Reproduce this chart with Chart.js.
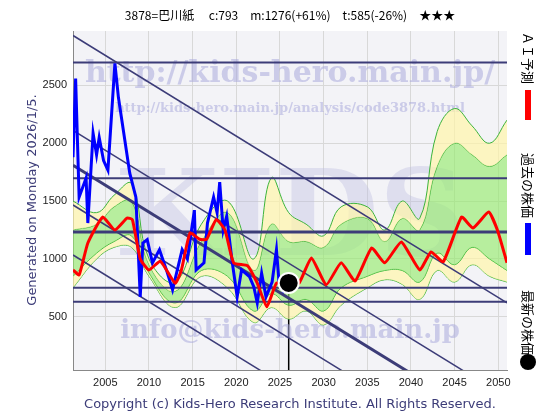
<!DOCTYPE html>
<html><head><meta charset="utf-8">
<script src="https://cdn.jsdelivr.net/npm/chart.js@4"></script>
<style>body{margin:0;background:#fff}#wrap{width:560px;height:420px}</style>
</head><body><div id="wrap"><canvas id="c"></canvas></div>
<script>
// past price (blue)
const pastYears = [2001.3,2001.6,2002.0,2002.8,2003.0,2003.6,2004.0,2004.3,2004.8,2005.3,2006.1,2006.5,2007.8,2008.5,2009.0,2009.3,2009.8,2010.4,2011.2,2012.0,2012.7,2013.8,2014.4,2015.2,2015.4,2016.3,2016.7,2017.4,2017.8,2018.1,2018.5,2018.9,2019.5,2020.1,2020.6,2021.5,2022.0,2022.4,2022.9,2023.4,2024.1,2024.6,2024.9,2025.5];
const pastValues = [1879,2560,1534,1700,1310,2086,1900,2050,1850,1767,2690,2397,1741,1534,672,1138,1167,966,1080,905,733,1080,1000,1422,905,966,1310,1534,1400,1664,1250,1370,991,672,905,848,760,620,876,672,800,1080,790,707];
// AI forecast (red)
const aiYears = [2001.3,2002.0,2003.0,2004.7,2006.1,2007.5,2008.1,2009.0,2010.0,2011.3,2013.0,2013.7,2014.7,2015.8,2016.6,2017.7,2018.7,2019.7,2021.3,2022.4,2023.5,2024.6,2026.0,2027.2,2028.6,2030.3,2032.0,2033.6,2035.5,2037.0,2038.9,2041.0,2042.3,2043.7,2045.8,2047.1,2048.9,2049.9,2051.0];
const aiValues = [905,862,1138,1362,1250,1353,1340,1000,905,980,790,900,1224,1170,1170,1340,1250,966,940,790,586,790,790,793,1008,776,966,810,1095,966,1147,905,1060,976,1362,1267,1405,1250,966];
// forecast bands
const bandYears = [2001.3,2004,2006,2008,2010,2013,2016,2019,2022,2024,2026,2028,2030,2032,2035,2037,2039,2041,2043,2045,2047,2049,2051];
const outerHigh = [1500,1400,1550,1650,1000,800,1300,1500,1000,1700,1400,1300,1200,1450,1450,1250,1500,1350,2100,2300,2150,2000,2200];
const innerHigh = [1250,1300,1450,1500,950,720,1150,1400,900,1300,1150,1150,1100,1300,1350,1150,1350,1250,1800,2000,1900,1800,1900];
const innerLow = [850,1050,1150,1200,880,620,900,850,550,700,600,650,550,750,850,900,900,800,1050,950,1100,1000,900];
const outerLow = [750,1000,1100,1100,850,580,850,750,450,580,480,550,430,600,750,820,780,650,900,800,950,850,800];
// support / resistance levels
const levels = [2698,1698,1233,750,629];
const trendStarts = [2931,2112,1810,1466,1034];
const trendSlope = -46.5;
const latest = {year: 2026.0, value: 793};
const xTicks = [2005,2010,2015,2020,2025,2030,2035,2040,2045,2050];
const yTicks = [500,1000,1500,2000,2500];

const X0 = 2001.3, X1 = 2051.0;
const pts = (xs, ys) => xs.map((x, i) => ({x: x, y: ys[i]}));

const datasets = [];
levels.forEach(v => datasets.push({data: pts([X0, X1], [v, v]), borderColor: '#3c3c78', borderWidth: v === 1233 ? 3 : 2, pointRadius: 0, order: 1}));
trendStarts.forEach((v, i) => datasets.push({data: pts([X0, X1], [v, v + trendSlope * (X1 - X0)]), borderColor: '#3c3c78', borderWidth: i === 2 ? 3 : 1.5, pointRadius: 0, order: 1}));
datasets.push({data: pts(bandYears, outerHigh), borderColor: '#3cb43c', borderWidth: 1, backgroundColor: 'rgba(255,245,170,0.7)', fill: '+1', tension: 0.4, pointRadius: 0, order: 5});
datasets.push({data: pts(bandYears, innerHigh), borderColor: '#3cb43c', borderWidth: 1, backgroundColor: 'rgba(150,235,110,0.65)', fill: '+1', tension: 0.4, pointRadius: 0, order: 5});
datasets.push({data: pts(bandYears, innerLow), borderColor: '#3cb43c', borderWidth: 1, backgroundColor: 'rgba(255,245,170,0.7)', fill: '+1', tension: 0.4, pointRadius: 0, order: 5});
datasets.push({data: pts(bandYears, outerLow), borderColor: '#3cb43c', borderWidth: 1, tension: 0.4, pointRadius: 0, order: 5});
datasets.push({data: pts(aiYears, aiValues), borderColor: '#ff0000', borderWidth: 3, tension: 0.15, pointRadius: 0, order: 0});
datasets.push({data: pts(pastYears, pastValues), borderColor: '#0000ff', borderWidth: 3, pointRadius: 0, order: 0});
datasets.push({data: [{x: latest.year, y: latest.value}], pointRadius: 10, pointBackgroundColor: '#000', pointBorderColor: '#fff', pointBorderWidth: 2, showLine: false, order: -1});

// background, watermark and side texts
const decor = {
    id: 'decor',
    beforeDraw(chart) {
        const ctx = chart.ctx, a = chart.chartArea;
        ctx.save();
        ctx.fillStyle = '#fff';
        ctx.fillRect(0, 0, chart.width, chart.height);
        ctx.fillStyle = '#f3f3f7';
        ctx.fillRect(a.left, a.top, a.right - a.left, a.bottom - a.top);
        ctx.restore();
    },
    beforeDatasetsDraw(chart) {
        const ctx = chart.ctx, y = chart.scales.y, x = chart.scales.x;
        ctx.save();
        ctx.strokeStyle = '#000';
        ctx.lineWidth = 1.5;
        ctx.beginPath();
        ctx.moveTo(x.getPixelForValue(latest.year), y.getPixelForValue(latest.value));
        ctx.lineTo(x.getPixelForValue(latest.year), chart.chartArea.bottom);
        ctx.stroke();
        ctx.fillStyle = 'rgba(170,170,220,0.55)';
        ctx.textAlign = 'center';
        ctx.font = 'bold 30px "DejaVu Serif"';
        ctx.fillText('http://kids-hero.main.jp/', 290, 82);
        ctx.font = 'bold 13px "DejaVu Serif"';
        ctx.fillText('http://kids-hero.main.jp/analysis/code3878.html', 290, 112);
        ctx.font = 'bold 26px "DejaVu Serif"';
        ctx.fillText('info@kids-hero.main.jp', 290, 338);
        ctx.fillStyle = 'rgba(190,190,225,0.4)';
        ctx.font = 'bold 120px "DejaVu Serif"';
        ctx.fillText('KIDS', 290, 255);
        ctx.restore();
    },
    afterDraw(chart) {
        const ctx = chart.ctx;
        ctx.save();
        ctx.fillStyle = '#000';
        ctx.textAlign = 'center';
        ctx.font = '12px "Noto Sans CJK JP"';
        ctx.fillText('3878=巴川紙　 c:793　m:1276(+61%)　t:585(-26%)　★★★', 290, 20);
        ctx.fillStyle = '#3c3c78';
        ctx.font = '13px "DejaVu Sans"';
        ctx.fillText('Copyright (c) Kids-Hero Research Institute. All Rights Reserved.', 290, 408);
        ctx.translate(36, 200);
        ctx.rotate(-Math.PI / 2);
        ctx.fillText('Generated on Monday 2026/1/5.', 0, 0);
        ctx.restore();
        // right legend
        ctx.save();
        ctx.translate(528, 0);
        ctx.rotate(Math.PI / 2);
        ctx.font = '13px "Noto Sans CJK JP"';
        ctx.fillStyle = '#000';
        ctx.textBaseline = 'middle';
        ctx.textAlign = 'left';
        ctx.fillText('ＡＩ予測', 32, 0);
        ctx.fillText('過去の株価', 153, 0);
        ctx.fillText('最新の株価', 290, 0);
        ctx.fillStyle = '#ff0000'; ctx.fillRect(90, -3, 30, 6);
        ctx.fillStyle = '#0000ff'; ctx.fillRect(223, -3, 32, 6);
        ctx.fillStyle = '#000';
        ctx.beginPath(); ctx.arc(362, 0, 8, 0, Math.PI * 2); ctx.fill();
        ctx.restore();
    }
};

new Chart(document.getElementById('c'), {
    type: 'line',
    data: {datasets: datasets},
    plugins: [decor],
    options: {
        responsive: true,
        maintainAspectRatio: false,
        animation: false,
        layout: {padding: {top: 31, right: 53, left: 0, bottom: 0}},
        plugins: {legend: {display: false}, tooltip: {enabled: false}},
        scales: {
            x: {
                type: 'linear', min: X0, max: X1,
                afterBuildTicks: s => { s.ticks = xTicks.map(v => ({value: v})); },
                afterFit: s => { s.height = 50; },
                grid: {color: '#d8d8d8', drawTicks: false},
                border: {color: '#888'},
                ticks: {color: '#222', font: {size: 11}, padding: 6, callback: v => String(v)}
            },
            y: {
                min: 40, max: 2970,
                afterBuildTicks: s => { s.ticks = yTicks.map(v => ({value: v})); },
                afterFit: s => { s.width = 73; },
                grid: {color: '#d8d8d8', drawTicks: false},
                border: {color: '#888'},
                ticks: {color: '#222', font: {size: 11}, padding: 6, callback: v => String(v)}
            }
        }
    }
});
</script>
</body></html>
